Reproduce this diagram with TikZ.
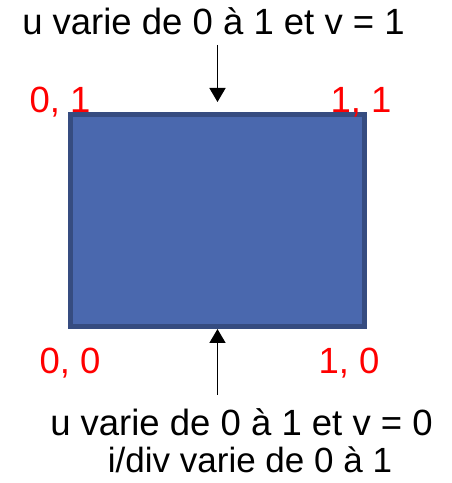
\documentclass[tikz,border=0pt]{standalone}
\usepackage{fontspec}
\setmainfont{Liberation Sans}
\usetikzlibrary{arrows.meta,positioning}
\definecolor{PatchBlue}{HTML}{4A68AE}
\definecolor{PatchEdge}{HTML}{364C80}
\definecolor{CornerRed}{HTML}{FF0000}

\begin{document}
\begin{tikzpicture}[x=1pt,y=1pt, every node/.style={font=\fontsize{36.5}{42}\selectfont, inner sep=0pt},
  corner/.style={text=CornerRed, anchor=base},
  caption/.style={anchor=base},
  arr/.style={line width=1.6pt, -{Triangle[width=16pt,length=14pt]}}]
  \useasboundingbox (0,0) rectangle (452,483);
  \node[draw=PatchEdge, fill=PatchBlue, line width=5pt, minimum width=294pt, minimum height=212pt] (patch) at (217.5,262.5) {};
  \node[caption] (ttop) at (213.5,448) {u varie de 0 à 1 et v = 1};
  \node[caption] (tbot) at (241.5,48) {u varie de 0 à 1 et v = 0};
  \node[caption, font=\fontsize{35}{40}\selectfont] (tdiv) at (250,11) {i/div varie de 0 à 1};
  \node[corner] (c01) at (60,370) {0, 1};
  \node[corner] (c11) at (361,370) {1, 1};
  \node[corner] (c00) at (70,109) {0, 0};
  \node[corner] (c10) at (349,109) {1, 0};
  \coordinate (topfree) at (217.5,438);
  \coordinate (topend) at (217.5,381);
  \coordinate (botfree) at (217.5,88);
  \draw[arr] (topfree) -- (topend);
  \draw[arr] (botfree) -- (patch.south);
\end{tikzpicture}
\end{document}
